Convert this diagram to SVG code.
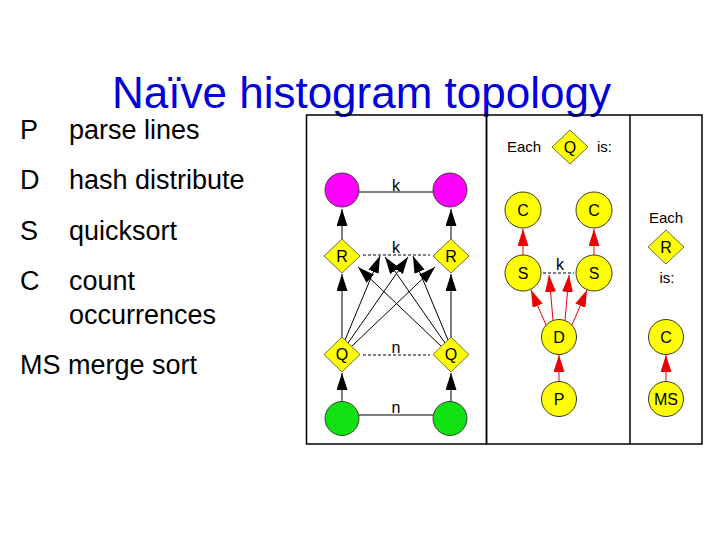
<svg xmlns="http://www.w3.org/2000/svg" width="720" height="540" viewBox="0 0 720 540">
<style>
  text { font-family: "Liberation Sans", Arial, sans-serif; fill: #000; }
  .title { font-size: 44px; fill: #0000dd; }
  .list { font-size: 27px; }
  .lbl { font-size: 16px; text-anchor: middle; }
  .nl { font-size: 16px; text-anchor: middle; }
  .sm { font-size: 15px; }
  .box { fill: none; stroke: #000; stroke-width: 1.5; }
  .dia { fill: #ffff00; stroke: #444; stroke-width: 0.8; }
  .ycirc { fill: #ffff00; stroke: #222; stroke-width: 0.9; }
  .mag { fill: #ff00ff; stroke: #333; stroke-width: 0.9; }
  .grn { fill: #11e011; stroke: #333; stroke-width: 0.9; }
  .blk { stroke: #000; stroke-width: 1; fill: none; }
  .blka { stroke: #000; stroke-width: 1; fill: none; marker-end: url(#ab); }
  .reda { stroke: #ee0000; stroke-width: 1; fill: none; marker-end: url(#ar); }
  .dash { stroke: #000; stroke-width: 1; stroke-dasharray: 3 2; fill: none; }
</style>
<defs>
  <marker id="ab" viewBox="0 0 17 11" refX="17" refY="5.5" markerWidth="17" markerHeight="11" markerUnits="userSpaceOnUse" orient="auto">
    <path d="M0,0 L17,5.5 L0,11 z" fill="#000"/>
  </marker>
  <marker id="ar" viewBox="0 0 17 11" refX="17" refY="5.5" markerWidth="17" markerHeight="11" markerUnits="userSpaceOnUse" orient="auto">
    <path d="M0,0 L17,5.5 L0,11 z" fill="#ee0000"/>
  </marker>
</defs>

<text class="title" x="112" y="108">Naïve histogram topology</text>

<g id="legend">
  <text class="list" x="20" y="139">P</text><text class="list" x="69" y="139">parse lines</text>
  <text class="list" x="20" y="189">D</text><text class="list" x="69" y="189">hash distribute</text>
  <text class="list" x="20" y="240">S</text><text class="list" x="69" y="240">quicksort</text>
  <text class="list" x="20" y="290">C</text><text class="list" x="69" y="290">count</text>
  <text class="list" x="69" y="324">occurrences</text>
  <text class="list" x="20" y="374">MS merge sort</text>
</g>

<g id="panels">
  <rect class="box" x="306.5" y="115" width="180" height="329"/>
  <rect class="box" x="486.5" y="115" width="215.5" height="329"/>
  <line class="box" x1="630" y1="115" x2="630" y2="444"/>
</g>

<g id="connectors">
  <!-- left panel -->
  <line class="blk" x1="359" y1="192" x2="433" y2="192"/>
  <line class="dash" x1="363" y1="255" x2="430" y2="255"/>
  <line class="dash" x1="363" y1="355" x2="430" y2="355"/>
  <line class="blk" x1="359" y1="415" x2="433" y2="415"/>
  <line class="blka" x1="342" y1="239" x2="342" y2="209"/>
  <line class="blka" x1="451" y1="239" x2="451" y2="209"/>
  <line class="blka" x1="342" y1="401" x2="342" y2="373"/>
  <line class="blka" x1="451" y1="401" x2="451" y2="373"/>
  <line class="blka" x1="342" y1="337" x2="342" y2="274"/>
  <line class="blka" x1="451" y1="337" x2="451" y2="274"/>
  <line class="blka" x1="345" y1="340" x2="380" y2="256"/>
  <line class="blka" x1="348" y1="343" x2="408" y2="257"/>
  <line class="blka" x1="352" y1="346" x2="435" y2="267"/>
  <line class="blka" x1="448" y1="340" x2="413" y2="256"/>
  <line class="blka" x1="445" y1="343" x2="385" y2="257"/>
  <line class="blka" x1="441" y1="346" x2="358" y2="267"/>
  <!-- middle panel -->
  <line class="dash" x1="543" y1="273" x2="574" y2="273"/>
  <line class="reda" x1="523" y1="255" x2="523" y2="229"/>
  <line class="reda" x1="594" y1="255" x2="594" y2="229"/>
  <line class="reda" x1="546" y1="325" x2="531" y2="290"/>
  <line class="reda" x1="553" y1="320" x2="549" y2="275"/>
  <line class="reda" x1="565" y1="320" x2="569" y2="275"/>
  <line class="reda" x1="572" y1="325" x2="587" y2="290"/>
  <line class="reda" x1="559" y1="381" x2="559" y2="355"/>
  <!-- right panel -->
  <line class="reda" x1="666" y1="381" x2="666" y2="355"/>
</g>

<g id="labels">
  <text class="lbl" x="396" y="191">k</text>
  <text class="lbl" x="396" y="253">k</text>
  <text class="lbl" x="396" y="353">n</text>
  <text class="lbl" x="396" y="413">n</text>
  <text class="lbl" x="560" y="270">k</text>
</g>

<g id="mag-left"><circle class="mag" cx="342" cy="190" r="17"/></g>
<g id="mag-right"><circle class="mag" cx="450" cy="190" r="17"/></g>
<g id="R-left"><polygon class="dia" points="342,239 360,256 342,273 324,256"/><text class="nl" x="342" y="262">R</text></g>
<g id="R-right"><polygon class="dia" points="451,239 469,256 451,273 433,256"/><text class="nl" x="451" y="262">R</text></g>
<g id="Q-left"><polygon class="dia" points="342,337 360,354.5 342,372 324,354.5"/><text class="nl" x="342" y="360">Q</text></g>
<g id="Q-right"><polygon class="dia" points="451,337 469,354.5 451,372 433,354.5"/><text class="nl" x="451" y="360">Q</text></g>
<g id="grn-left"><circle class="grn" cx="342" cy="418.5" r="17"/></g>
<g id="grn-right"><circle class="grn" cx="450" cy="418.5" r="17"/></g>

<g id="each-q">
  <text class="sm" x="507" y="152">Each</text>
  <polygon class="dia" points="570,130 588,147 570,164 552,147"/><text class="nl" x="570" y="153">Q</text>
  <text class="sm" x="597" y="152">is:</text>
</g>
<g id="C1"><circle class="ycirc" cx="523" cy="210" r="18"/><text class="nl" x="523" y="216">C</text></g>
<g id="C2"><circle class="ycirc" cx="594" cy="210" r="18"/><text class="nl" x="594" y="216">C</text></g>
<g id="S1"><circle class="ycirc" cx="523" cy="273" r="18"/><text class="nl" x="523" y="279">S</text></g>
<g id="S2"><circle class="ycirc" cx="594" cy="273" r="18"/><text class="nl" x="594" y="279">S</text></g>
<g id="D"><circle class="ycirc" cx="559" cy="337" r="17.5"/><text class="nl" x="559" y="343">D</text></g>
<g id="P"><circle class="ycirc" cx="559" cy="399" r="17.5"/><text class="nl" x="559" y="405">P</text></g>

<g id="each-r">
  <text class="sm" x="666" y="223" text-anchor="middle">Each</text>
  <polygon class="dia" points="666,230 684,247 666,264 648,247"/><text class="nl" x="666" y="253">R</text>
  <text class="sm" x="667" y="283" text-anchor="middle">is:</text>
</g>
<g id="C3"><circle class="ycirc" cx="666" cy="337" r="17.5"/><text class="nl" x="666" y="343">C</text></g>
<g id="MS"><circle class="ycirc" cx="666" cy="399" r="17.5"/><text class="nl" x="666" y="405">MS</text></g>
</svg>
